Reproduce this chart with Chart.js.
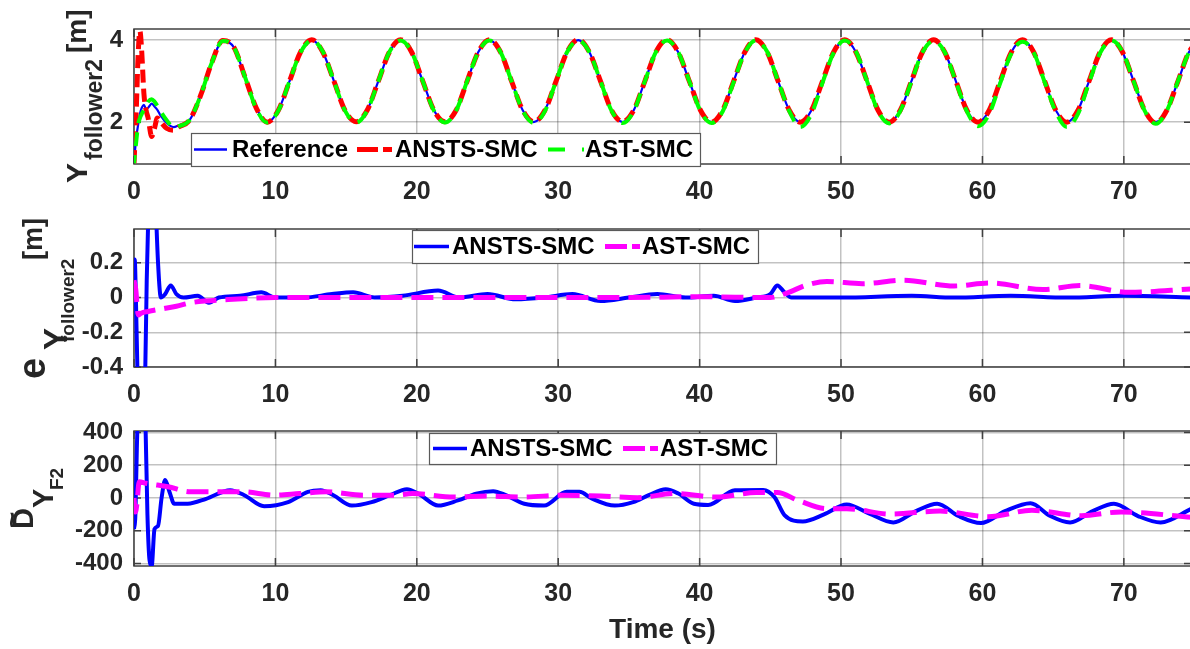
<!DOCTYPE html>
<html>
<head>
<meta charset="utf-8">
<script src="https://cdn.jsdelivr.net/npm/chart.js@4.4.1/dist/chart.umd.min.js"></script>
<style>
  html, body { margin: 0; padding: 0; background: #fff; overflow: hidden; }
  #wrap { position: relative; width: 1190px; height: 649px; overflow: hidden; }
  #wrap canvas { position: absolute; left: 0; top: 0; }
</style>
</head>
<body>
<div id="wrap">
  <canvas id="c1" width="1192" height="649"></canvas>
  <canvas id="c2" width="1192" height="649"></canvas>
  <canvas id="c3" width="1192" height="649"></canvas>
</div>
<script>
// ---- data ----
const xTickValues = [0, 10, 20, 30, 40, 50, 60, 70];
const yTicksTop = [2, 4];
const yTicksErr = [-0.4, -0.2, 0, 0.2];
const yTicksDist = [-400, -200, 0, 200, 400];

// top panel: Y position of follower 2
const tTop = [0, 0.15, 0.3, 0.42, 0.55, 0.7, 0.85, 1.0, 1.25, 1.45, 1.65, 1.9, 2.3, 2.8,
  3.14, 3.93, 4.71, 5.50, 6.28, 7.07, 7.85, 8.64, 9.42, 10.21, 11.00, 11.78, 12.57, 13.35, 14.14, 14.92,
  15.71, 16.49, 17.28, 18.06, 18.85, 19.63, 20.42, 21.21, 21.99, 22.78, 23.56, 24.35, 25.13, 25.92, 26.70,
  27.49, 28.27, 29.06, 29.85, 30.63, 31.42, 32.20, 32.99, 33.77, 34.56, 35.34, 36.13, 36.91, 37.70, 38.48,
  39.27, 40.06, 40.84, 41.63, 42.41, 43.20, 43.98, 44.77, 45.55, 46.34, 47.12, 47.91, 48.69, 49.48, 50.27,
  51.05, 51.84, 52.62, 53.41, 54.19, 54.98, 55.76, 56.55, 57.33, 58.12, 58.90, 59.69, 60.48, 61.26, 62.05,
  62.83, 63.62, 64.40, 65.19, 65.97, 66.76, 67.54, 68.33, 69.12, 69.90, 70.69, 71.47, 72.26, 73.04, 73.83,
  74.61, 75.40];
const yReference = [1.0, 1.6, 1.95, 2.2, 2.35, 2.42, 2.32, 2.35, 2.45, 2.38, 2.3, 2.15, 1.98, 1.88,
  1.92, 2.05, 2.65, 3.45, 3.98, 3.82, 3.1, 2.35,
  2, 2.29, 3, 3.71, 4, 3.71, 3, 2.29,
  2, 2.29, 3, 3.71, 4, 3.71, 3, 2.29,
  2, 2.29, 3, 3.71, 4, 3.71, 3, 2.29,
  2, 2.29, 3, 3.71, 4, 3.71, 3, 2.29,
  2, 2.29, 3, 3.71, 4, 3.71, 3, 2.29,
  2, 2.29, 3, 3.71, 4, 3.71, 3, 2.29,
  2, 2.29, 3, 3.71, 4, 3.71, 3, 2.29,
  2, 2.29, 3, 3.71, 4, 3.71, 3, 2.29,
  2, 2.29, 3, 3.71, 4, 3.71, 3, 2.29,
  2, 2.29, 3, 3.71, 4, 3.71, 3, 2.29,
  2, 2.29, 3, 3.71, 4];
const yAnsts = [1.0, 2.2, 3.7, 4.22, 3.7, 2.7, 2.3, 2.1, 1.65, 1.85, 2.1, 2.0, 1.85, 1.8,
  1.88, 2.05, 2.65, 3.45, 3.99, 3.82, 3.1, 2.35,
  2.0, 2.29, 3, 3.71, 4.01, 3.71, 3, 2.29,
  2.01, 2.29, 3, 3.71, 4.01, 3.71, 3, 2.29,
  2.01, 2.29, 3, 3.71, 4.01, 3.71, 3, 2.29,
  2.01, 2.29, 3, 3.71, 4.01, 3.71, 3, 2.29,
  2.01, 2.29, 3, 3.71, 4.01, 3.71, 3, 2.29,
  2.0, 2.29, 3, 3.71, 4.01, 3.71, 3, 2.29,
  2.0, 2.29, 3, 3.71, 4.01, 3.71, 3, 2.29,
  2.0, 2.29, 3, 3.71, 4.01, 3.71, 3, 2.29,
  2.0, 2.29, 3, 3.71, 4.01, 3.71, 3, 2.29,
  2.0, 2.29, 3, 3.71, 4.01, 3.71, 3, 2.29,
  1.98, 2.29, 3, 3.71, 4];
const yAst = [1.0, 1.5, 1.95, 2.1, 2.2, 2.3, 2.4, 2.5, 2.56, 2.5, 2.4, 2.25, 2.05, 1.88,
  1.9, 2.05, 2.65, 3.45, 3.98, 3.82, 3.1, 2.33,
  1.99, 2.28, 3, 3.7, 3.99, 3.72, 3, 2.28,
  1.99, 2.28, 3, 3.71, 3.99, 3.71, 3, 2.28,
  1.99, 2.28, 3, 3.71, 3.99, 3.71, 3, 2.28,
  1.98, 2.27, 3, 3.71, 3.99, 3.71, 3, 2.28,
  1.98, 2.27, 3, 3.71, 3.99, 3.71, 3, 2.27,
  1.98, 2.26, 2.98, 3.7, 3.99, 3.72, 3, 2.27,
  1.88, 2.2, 2.96, 3.69, 3.99, 3.72, 3, 2.27,
  1.97, 2.27, 2.99, 3.7, 3.98, 3.71, 2.99, 2.26,
  1.9, 2.2, 2.95, 3.68, 3.96, 3.7, 2.98, 2.25,
  1.88, 2.2, 2.96, 3.69, 3.99, 3.72, 3, 2.28,
  1.96, 2.28, 3, 3.7, 3.99];

// middle panel: tracking error
const tErrAnsts = [0, 0.05, 0.12, 0.25, 0.45, 0.65, 0.8, 0.9, 1.05, 1.3,
  1.5, 1.7, 1.9, 2.2, 2.6, 3.0, 3.5, 4.5, 5.3, 6.0,
  7.5, 9.0, 10, 12, 14, 15.5, 17, 19, 21.5, 23,
  25, 27, 29, 31, 33, 35, 37, 39, 41, 42.5,
  44, 45, 45.5, 46, 46.5, 50, 55, 58, 62, 66, 70, 74.8];
const eAnsts = [0, 0.22, 0.05, -0.45, -0.9, -0.7, -0.4, 0.1, 0.6, 0.9,
  0.6, 0.2, 0, 0.02, 0.07, 0.02, 0, 0.01, -0.03, 0,
  0.01, 0.03, 0, 0, 0.02, 0.03, 0, 0.01, 0.04, 0,
  0.02, -0.01, 0, 0.02, -0.02, 0, 0.02, 0, 0.01, -0.02,
  0, 0.02, 0.07, 0.03, 0, 0, 0.01, 0, 0.01, 0, 0.01, 0];
const tErrAst = [0, 0.12, 0.3, 0.5, 1.0, 2.0, 3.0, 4.0, 5.0, 7.0, 10, 15, 20, 25, 30, 35, 40, 45,
  46.3, 47.5, 49.0, 51.5, 54.4, 58.0, 60.5, 64.3, 66.9, 70.4, 74.8];
const eAst = [0.1, 0.05, -0.1, -0.09, -0.08, -0.065, -0.05, -0.03, -0.02, -0.01, 0, 0, 0, 0, 0, 0, 0.005, 0,
  0.03, 0.07, 0.093, 0.08, 0.1, 0.067, 0.084, 0.046, 0.069, 0.03, 0.05];

// bottom panel: disturbance estimate
const tDistAnsts = [0, 0.1, 0.2, 0.35, 0.6, 0.8, 0.95, 1.1, 1.25, 1.45,
  1.7, 1.95, 2.2, 2.5, 2.85, 3.8, 5.1, 6.8, 7.8, 9.2,
  10.9, 12.3, 13.2, 14.1, 15.4, 16.8, 18.1, 19.3, 20.2, 21.5,
  22.9, 24.2, 25.4, 26.3, 27.6, 29.0, 30.6, 31.5, 32.4, 34.0,
  35.3, 36.4, 37.6, 38.5, 39.6, 40.6, 42.5, 44.5, 45.3, 46.0,
  47.3, 48.8, 50.4, 52.0, 53.7, 55.3, 56.8, 58.3, 59.9, 61.6,
  63.4, 64.8, 66.2, 67.8, 69.3, 71.0, 72.6, 74.8];
const dAnsts = [-190, -100, 300, 700, 900, 500, -100, -380, -415, -190,
  -170, 0, 110, 40, -35, -35, -5, 48, 17, -50,
  -25, 38, 48, 17, -46, -25, 17, 54, 21, -46,
  -15, 27, 42, 17, -35, -46, 38, 38, -4, -46,
  -25, 17, 54, 27, -35, -42, 47, 49, 4, -104,
  -143, -100, -39, -95, -149, -80, -35, -110, -153, -80,
  -32, -110, -149, -80, -35, -110, -149, -65];
const tDistAst = [0, 0.1, 0.2, 0.37, 0.85, 2.4, 4.0, 6.4, 7.7, 9.9,
  11.7, 13.6, 16.2, 18.4, 19.7, 22.6, 25.0, 27.6, 30.3, 33.0,
  35.6, 38.2, 41.2, 44.0, 45.5, 47.0, 49.0, 50.4, 53.5, 57.0,
  60.4, 63.5, 67.0, 69.8, 74.8];
const dAst = [0, -85, -40, 100, 90, 69, 38, 38, 38, 17,
  27, 38, 17, 17, 27, 6, 12, 6, 17, 12,
  2, 27, 6, 33, 33, -16, -65, -65, -98, -80,
  -114, -75, -108, -85, -118];

// ---- styling ----
const FONT = '"Liberation Sans", Arial, sans-serif';
const TXT = '#262626';
const GRID = 'rgba(0,0,0,0.24)';
const BOX = '#404040';
const X_MAX = 74.75;

const pts = (t, v) => t.map((x, i) => ({ x: x, y: v[i] }));

function drawBox(chart) {
  const { ctx, chartArea: a, scales } = chart;
  ctx.save();
  ctx.strokeStyle = BOX;
  ctx.lineWidth = 1.5;
  ctx.strokeRect(a.left, a.top, a.right - a.left, a.bottom - a.top);
  ctx.beginPath();
  scales.x.ticks.forEach(t => {
    const x = scales.x.getPixelForValue(t.value);
    ctx.moveTo(x, a.bottom); ctx.lineTo(x, a.bottom - 8);
    ctx.moveTo(x, a.top); ctx.lineTo(x, a.top + 8);
  });
  scales.y.ticks.forEach(t => {
    const y = scales.y.getPixelForValue(t.value);
    ctx.moveTo(a.left, y); ctx.lineTo(a.left + 7, y);
    ctx.moveTo(a.right, y); ctx.lineTo(a.right - 7, y);
  });
  ctx.stroke();
  ctx.restore();
}

function drawLegend(chart, lg) {
  const ctx = chart.ctx;
  ctx.save();
  ctx.fillStyle = '#fff';
  ctx.fillRect(lg.x, lg.y, lg.w, lg.h);
  ctx.strokeStyle = '#5a5a5a';
  ctx.lineWidth = 1.2;
  ctx.strokeRect(lg.x + 0.5, lg.y + 0.5, lg.w, lg.h);
  const cy = lg.y + lg.h / 2;
  lg.items.forEach(it => {
    const ds = chart.data.datasets[it.ds];
    ctx.strokeStyle = ds.borderColor;
    ctx.lineWidth = it.width;
    ctx.setLineDash(it.dash || []);
    ctx.beginPath();
    ctx.moveTo(it.x0, cy);
    ctx.lineTo(it.x1, cy);
    ctx.stroke();
    ctx.setLineDash([]);
    ctx.fillStyle = '#000';
    ctx.font = 'bold 24px ' + FONT;
    ctx.textBaseline = 'middle';
    ctx.fillText(ds.label, it.tx, cy + 1);
  });
  ctx.restore();
}

// rotated axis title made of runs (text, size, start y on screen, baseline x on screen)
function drawYTitle(ctx, runs) {
  ctx.save();
  ctx.rotate(-Math.PI / 2);
  ctx.fillStyle = TXT;
  ctx.textBaseline = 'alphabetic';
  runs.forEach(r => {
    ctx.font = 'bold ' + r.size + 'px ' + FONT;
    ctx.fillText(r.text, -r.y, r.base);
  });
  ctx.restore();
}

function makePanel(id, p) {
  const deco = {
    id: 'deco',
    beforeDatasetsDraw(chart) { drawBox(chart); },
    afterDraw(chart) {
      drawLegend(chart, p.legend);
      drawYTitle(chart.ctx, p.title);
      if (p.xTitle) {
        const ctx = chart.ctx;
        ctx.save();
        ctx.fillStyle = TXT;
        ctx.font = 'bold 28px ' + FONT;
        ctx.textAlign = 'center';
        ctx.textBaseline = 'alphabetic';
        ctx.fillText(p.xTitle, (chart.chartArea.left + chart.chartArea.right) / 2, 638);
        ctx.restore();
      }
    }
  };
  return new Chart(document.getElementById(id), {
    type: 'line',
    data: { datasets: p.datasets },
    options: {
      responsive: false,
      animation: false,
      events: [],
      layout: { padding: { top: p.top, left: 0, right: 1, bottom: 0 } },
      elements: {
        point: { radius: 0 },
        line: { cubicInterpolationMode: 'monotone', borderCapStyle: 'butt' }
      },
      scales: {
        x: {
          type: 'linear', min: 0, max: X_MAX,
          afterFit: s => { s.height = 649 - p.bottom; },
          afterBuildTicks: s => { s.ticks = xTickValues.map(v => ({ value: v })); },
          grid: { color: GRID, lineWidth: 1.5, drawTicks: false },
          border: { display: false },
          ticks: { autoSkip: false, maxRotation: 0, padding: 13, color: TXT, font: { family: FONT, size: 25, weight: 'bold' } }
        },
        y: {
          type: 'linear', min: p.yMin, max: p.yMax,
          afterFit: s => { s.width = 134; },
          afterBuildTicks: s => { s.ticks = p.yTicks.map(v => ({ value: v })); },
          grid: { color: GRID, lineWidth: 1.5, drawTicks: false },
          border: { display: false },
          ticks: { padding: 11, color: TXT, font: { family: FONT, size: 24, weight: 'bold' } }
        }
      },
      plugins: { legend: { display: false }, tooltip: { enabled: false } }
    },
    plugins: [deco]
  });
}

makePanel('c1', {
  top: 29, bottom: 164, yMin: 0.98, yMax: 4.27, yTicks: yTicksTop,
  datasets: [
    { label: 'Reference', data: pts(tTop, yReference), borderColor: '#0000ff', borderWidth: 2.2, clip: 0, order: 3 },
    { label: 'ANSTS-SMC', data: pts(tTop, yAnsts), borderColor: '#ff0000', borderWidth: 5, borderDash: [13, 6], clip: 0, order: 2 },
    { label: 'AST-SMC', data: pts(tTop, yAst), borderColor: '#00ff00', borderWidth: 4, borderDash: [14, 9], borderDashOffset: 6, clip: 0, order: 1 }
  ],
  legend: {
    x: 191, y: 133, w: 509, h: 33,
    items: [
      { ds: 0, x0: 194, x1: 227, tx: 232, width: 2.5 },
      { ds: 1, x0: 357, x1: 392, tx: 395, width: 5, dash: [21, 5] },
      { ds: 2, x0: 548, x1: 584, tx: 585, width: 4, dash: [17, 17] }
    ]
  },
  title: [
    { text: 'Y', size: 30, y: 183, base: 87 },
    { text: 'follower2', size: 23, y: 160, base: 102 },
    { text: '[m]', size: 28, y: 53, base: 86 }
  ]
});

makePanel('c2', {
  top: 229, bottom: 367, yMin: -0.4, yMax: 0.395, yTicks: yTicksErr,
  datasets: [
    { label: 'ANSTS-SMC', data: pts(tErrAnsts, eAnsts), borderColor: '#0000ff', borderWidth: 4, clip: 0, order: 2 },
    { label: 'AST-SMC', data: pts(tErrAst, eAst), borderColor: '#ff00ff', borderWidth: 5, borderDash: [22, 9], clip: 0, order: 1 }
  ],
  legend: {
    x: 412, y: 230, w: 346, h: 33,
    items: [
      { ds: 0, x0: 414, x1: 449, tx: 452, width: 3.5 },
      { ds: 1, x0: 605, x1: 640, tx: 642, width: 5, dash: [22, 5] }
    ]
  },
  title: [
    { text: 'e', size: 38, y: 379, base: 45 },
    { text: 'Y', size: 33, y: 350, base: 67 },
    { text: 'follower2', size: 19, y: 342, base: 74 },
    { text: '[m]', size: 27, y: 260, base: 42 }
  ]
});

makePanel('c3', {
  top: 431, bottom: 566, yMin: -415, yMax: 409, yTicks: yTicksDist,
  datasets: [
    { label: 'ANSTS-SMC', data: pts(tDistAnsts, dAnsts), borderColor: '#0000ff', borderWidth: 4, clip: 0, order: 2 },
    { label: 'AST-SMC', data: pts(tDistAst, dAst), borderColor: '#ff00ff', borderWidth: 5, borderDash: [22, 9], clip: 0, order: 1 }
  ],
  legend: {
    x: 429, y: 433, w: 347, h: 31,
    items: [
      { ds: 0, x0: 433, x1: 467, tx: 470, width: 3.5 },
      { ds: 1, x0: 623, x1: 658, tx: 660, width: 5, dash: [22, 5] }
    ]
  },
  title: [
    { text: 'D', size: 29, y: 529, base: 33 },
    { text: '~', size: 28, y: 528, base: 21 },
    { text: 'Y', size: 29, y: 508, base: 53 },
    { text: 'F2', size: 19, y: 490, base: 63 }
  ],
  xTitle: 'Time (s)'
});
</script>
</body>
</html>
